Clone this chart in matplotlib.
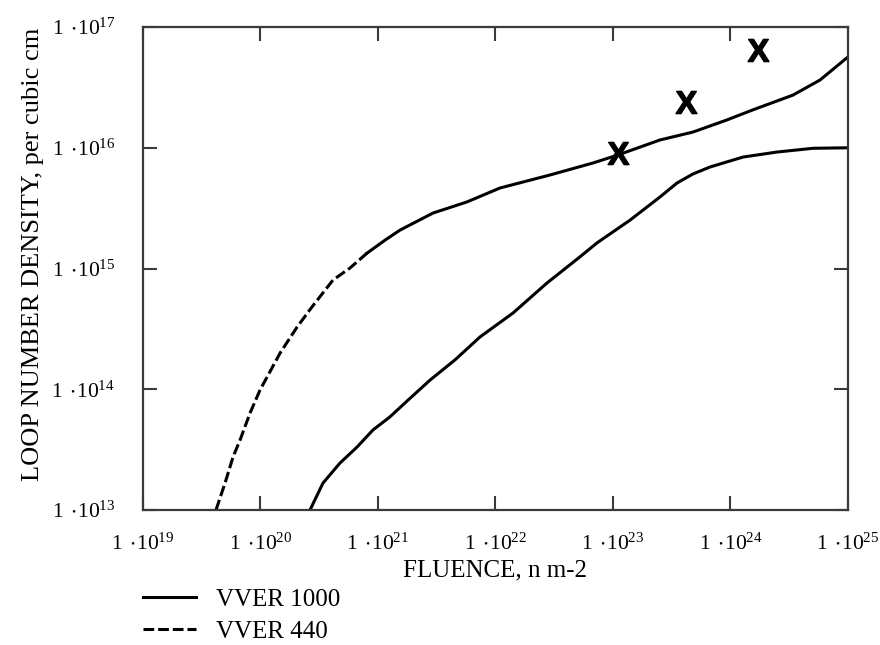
import numpy as np
import matplotlib
matplotlib.use('Agg')
import matplotlib.pyplot as plt

plt.rcParams['font.family'] = ['Liberation Serif', 'DejaVu Serif']
plt.rcParams['mathtext.fontset'] = 'custom'
plt.rcParams['mathtext.rm'] = 'Liberation Serif'
plt.rcParams['mathtext.bf'] = 'Liberation Sans:bold'

# VVER 440 curve (upper)
fluence_440 = [4.18e19, 4.99e19, 5.84e19, 6.70e19, 8.15e19, 9.91e19, 1.47e20, 2.05e20,
               2.74e20, 4.14e20, 5.78e20, 8.06e20, 1.15e21, 1.54e21, 2.94e21, 5.72e21,
               1.09e22, 2.91e22, 6.76e22, 1.10e23, 2.51e23, 4.80e23, 9.33e23, 1.55e24,
               3.40e24, 5.78e24, 1.0e25]
density_440 = [1.0e13, 1.67e13, 2.75e13, 3.80e13, 6.36e13, 9.86e13, 2.0e14, 3.28e14,
               4.80e14, 8.03e14, 1.01e15, 1.34e15, 1.72e15, 2.08e15, 2.88e15, 3.56e15,
               4.64e15, 5.95e15, 7.48e15, 8.71e15, 1.16e16, 1.35e16, 1.70e16, 2.06e16,
               2.73e16, 3.64e16, 5.65e16]
dash_until = 8.06e20  # the curve looks dashed only on its steep part

# VVER 1000 curve (lower)
fluence_1000 = [2.64e20, 3.40e20, 4.75e20, 6.63e20, 9.06e20, 1.26e21, 1.77e21, 2.77e21,
                4.52e21, 7.38e21, 1.41e22, 2.74e22, 5.24e22, 7.31e22, 1.40e23, 2.51e23,
                3.51e23, 4.80e23, 6.70e23, 1.28e24, 2.49e24, 5.04e24, 1.0e25]
density_1000 = [1.0e13, 1.67e13, 2.45e13, 3.32e13, 4.60e13, 5.89e13, 8.0e13, 1.19e14,
                1.75e14, 2.71e14, 4.28e14, 7.58e14, 1.25e15, 1.63e15, 2.52e15, 3.91e15,
                5.11e15, 6.07e15, 6.93e15, 8.38e15, 9.22e15, 9.9e15, 1.0e16]

# measured points (X marks)
meas_fluence = [1.1e23, 4.2e23, 1.7e24]
meas_density = [9.1e15, 2.4e16, 6.4e16]

x_ticks = [1e19, 1e20, 1e21, 1e22, 1e23, 1e24, 1e25]
y_ticks = [1e13, 1e14, 1e15, 1e16, 1e17]


def tick_label(v):
    return r'$\mathregular{1\,\cdot\!10^{%d}}$' % int(round(np.log10(v)))


fig = plt.figure(figsize=(8.8, 6.45), dpi=100)
ax = fig.add_axes([0.1625, 0.2093, 0.8011, 0.7488])

lw = 2.2
f440 = np.array(fluence_440)
d440 = np.array(density_440)
dashed = f440 <= dash_until
solid = f440 >= dash_until

ax.plot(fluence_1000, density_1000, color='black', lw=lw, label='VVER 1000')
ax.plot(f440[dashed], d440[dashed], color='black', lw=lw, dashes=(3.5, 1.3), label='VVER 440')
ax.plot(f440[solid], d440[solid], color='black', lw=lw)
ax.plot(meas_fluence, meas_density, ls='none', marker=r'$\mathbf{X}$', ms=16, color='black')

ax.set_xscale('log')
ax.set_yscale('log')
ax.set_xlim(1e19, 1e25)
ax.set_ylim(1e13, 1e17)
ax.set_xticks(x_ticks)
ax.set_yticks(y_ticks)
ax.minorticks_off()
ax.set_xticklabels([tick_label(v) for v in x_ticks])
ax.set_yticklabels([tick_label(v) for v in y_ticks])

frame = '#3a3a3a'
for s in ax.spines.values():
    s.set_color(frame)
    s.set_linewidth(1.6)
ax.tick_params(axis='both', which='major', direction='in', length=10, width=1.5,
               color=frame, labelsize=15.5, top=True, right=True)
ax.tick_params(axis='x', pad=17)
ax.tick_params(axis='y', pad=20)

fig.text(0.5625, 1 - 570 / 645, 'FLUENCE, n m-2', ha='center', va='center', fontsize=18)
fig.text(0.0375, 1 - 254 / 645, 'LOOP NUMBER DENSITY, per cubic cm', ha='center', va='center',
         rotation=90, fontsize=19)

fig.legend(loc='upper left', bbox_to_anchor=(0.163, 1 - 588 / 645), frameon=False,
           fontsize=18, handlelength=2.1, handletextpad=0.8, labelspacing=0.4,
           borderpad=0, borderaxespad=0)

fig.savefig('out.png', dpi=100)
